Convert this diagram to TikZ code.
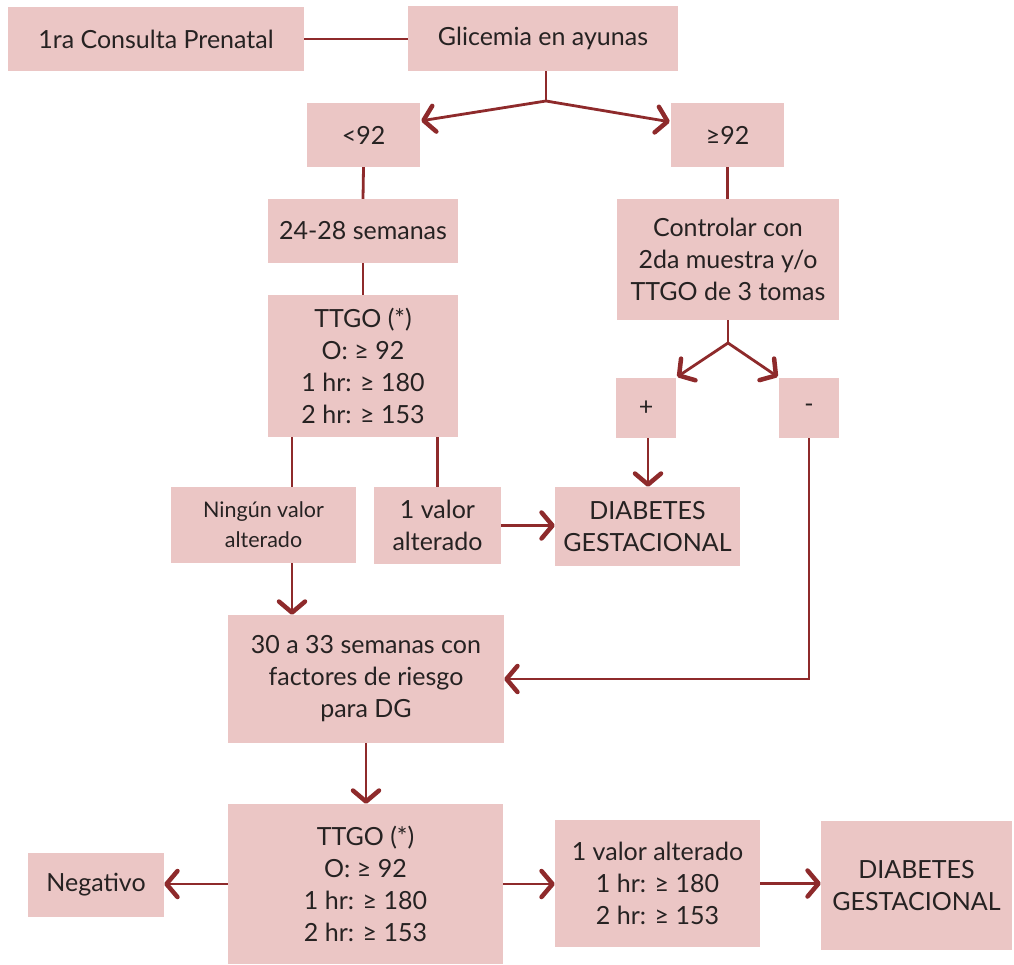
\documentclass[tikz,border=0pt]{standalone}
\usepackage{fontspec}
\setmainfont{Lato}
\usetikzlibrary{arrows.meta,calc}
\definecolor{boxc}{HTML}{EBC6C5}
\definecolor{linec}{HTML}{8E2A2B}
\definecolor{txtc}{HTML}{262222}
\begin{document}
\begin{tikzpicture}[x=1pt,y=-1pt,
  box/.style={fill=boxc, inner sep=0pt, align=center, text=txtc,
    font=\fontsize{25}{32}\selectfont},
  small/.style={font=\fontsize{21.5}{30}\selectfont},
  conn/.style={draw=linec, line width=2.8pt},
  arr/.style={conn, -{Straight Barb[length=11pt,width=26pt,line width=4.5pt,round]}}]
\useasboundingbox (0,0) rectangle (1014,965);
\node[box, minimum width=296pt, minimum height=64pt] (c1) at (156,39) {1ra Consulta Prenatal};
\node[box, minimum width=270pt, minimum height=65pt] (glic) at (543,38.5) {Glicemia en ayunas};
\node[box, minimum width=113pt, minimum height=64pt] (lt) at (363.5,135) {<92};
\node[box, minimum width=113pt, minimum height=64pt] (ge) at (727.5,135) {≥92};
\node[box, minimum width=190pt, minimum height=64pt] (sem) at (363,231) {24-28 semanas};
\node[box, minimum width=222pt, minimum height=121pt] (ctrl) at (728,259.5) {Controlar con\\2da muestra y/o\\TTGO de 3 tomas};
\node[box, minimum width=190pt, minimum height=142pt] (ttgo1) at (363,366) {TTGO (*)\\O: ≥ 92\\1 hr: ≥ 180\\2 hr: ≥ 153};
\node[box, minimum width=60pt, minimum height=60pt] (plus) at (646,408) {+};
\node[box, minimum width=60pt, minimum height=60pt] (minus) at (809,408) {-};
\node[box, small, minimum width=185pt, minimum height=76pt] (ning) at (263.5,525) {Ningún valor\\alterado};
\node[box, minimum width=127pt, minimum height=77pt] (val1) at (437.5,525.5) {1 valor\\alterado};
\node[box, minimum width=185pt, minimum height=79pt] (dg1) at (647.5,526.5) {DIABETES\\GESTACIONAL};
\node[box, minimum width=276pt, minimum height=128pt] (s30) at (366,679) {30 a 33 semanas con\\factores de riesgo\\para DG};
\node[box, minimum width=275pt, minimum height=160pt] (ttgo2) at (365.5,884) {TTGO (*)\\O: ≥ 92\\1 hr: ≥ 180\\2 hr: ≥ 153};
\node[box, minimum width=136pt, minimum height=64pt] (neg) at (96,885) {Negativo};
\node[box, minimum width=205pt, minimum height=127pt] (val2) at (657.5,883.5) {1 valor alterado\\1 hr: ≥ 180\\2 hr: ≥ 153};
\node[box, minimum width=191pt, minimum height=129pt] (dg2) at (916.5,885.5) {DIABETES\\GESTACIONAL};
% connectors
\coordinate (j1) at (546,101);
\coordinate (j2) at (728,343);
\coordinate (xa) at (292,0);
\draw[conn] (c1.east) -- (c1.east -| glic.west);
\draw[conn] (glic.south -| j1) -- (j1);
\draw[arr] (j1) -- ($(lt.north east)+(1,18)$);
\draw[arr] (j1) -- ($(ge.north west)+(-1,19)$);
\draw[conn] (lt.south) -- (sem.north);
\draw[conn] (ge.south) -- (ge.south |- ctrl.north);
\draw[conn] (sem.south) -- (ttgo1.north);
\draw[conn] (ctrl.south) -- (j2);
\draw[arr] (j2) -- ($(plus.north east)+(1,-1)$);
\draw[arr] (j2) -- ($(minus.north west)+(-1,-1)$);
\draw[conn] (ttgo1.south -| xa) -- (ning.north -| xa);
\draw[arr] (ning.south -| xa) -- (s30.north -| xa);
\draw[conn] (val1.north) -- (val1.north |- ttgo1.south);
\draw[arr] (val1.east) -- (val1.east -| dg1.west);
\draw[arr] ($(plus.south)+(2,0)$) -- ($(plus.south |- dg1.north)+(2,0)$);
\draw[arr] (minus.south) |- (s30.east);
\draw[arr] (s30.south) -- (s30.south |- ttgo2.north);
\draw[arr] (ttgo2.west) -- (ttgo2.west -| neg.east);
\draw[arr] (ttgo2.east) -- (ttgo2.east -| val2.west);
\draw[arr] (val2.east) -- (val2.east -| dg2.west);
\end{tikzpicture}
\end{document}
